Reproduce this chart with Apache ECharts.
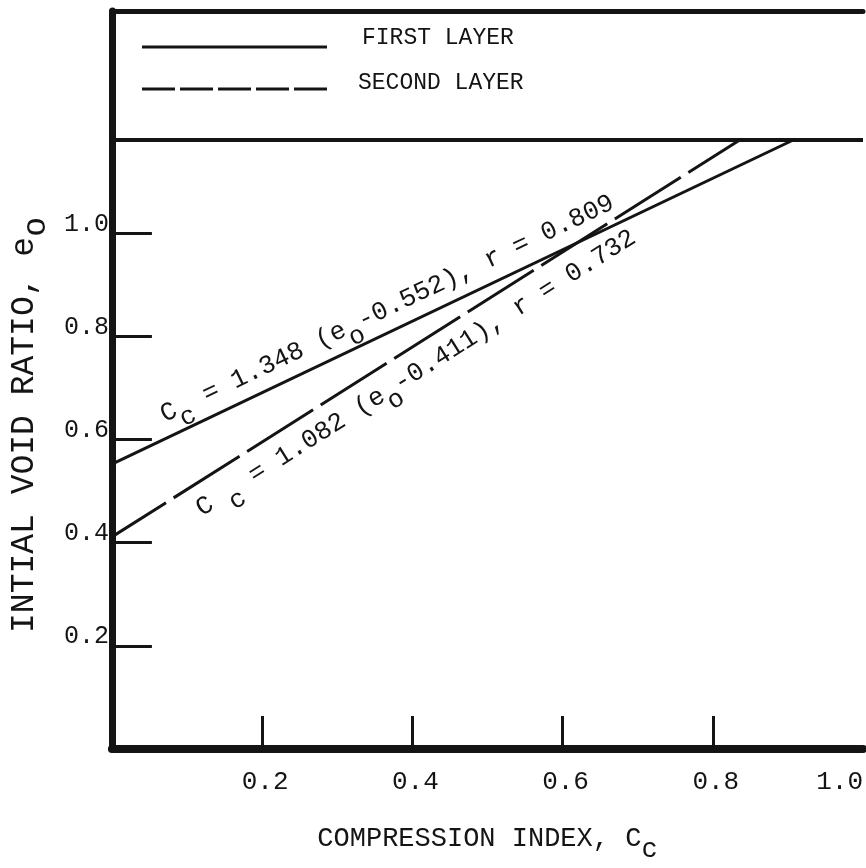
<!DOCTYPE html>
<html>
<head>
<meta charset="utf-8">
<title>Initial void ratio vs compression index</title>
<script src="https://cdn.jsdelivr.net/npm/echarts@6/dist/echarts.min.js"></script>
<style>
  html, body { margin: 0; padding: 0; background: #ffffff; }
  #chart { width: 866px; height: 868px; }
</style>
</head>
<body>
<div id="chart"></div>
<script>
// Regression lines: initial void ratio e_o against compression index C_c
const ccFirst = [0, 0.91];
const eoFirst = [0.552, 1.182];
const ccSecond = [0, 0.838];
const eoSecond = [0.411, 1.182];

const xTickValues = [0.2, 0.4, 0.6, 0.8];
const xLabelValues = [0.2, 0.4, 0.6, 0.8, 1.0];
const yTickValues = [0.2, 0.4, 0.6, 0.8, 1.0];

const seriesNames = ['FIRST LAYER', 'SECOND LAYER'];
const keyPanelEdge = 1.182;   // e_o level of the rule under the key panel

// Regression equations written along each line
const eqFirst = { coef: '1.348', shift: '0.552', r: '0.809' };
const eqSecond = { coef: '1.082', shift: '0.411', r: '0.732' };

const FONT = '"Liberation Mono", "DejaVu Sans Mono", monospace';
const INK = '#141414';

function pairs(xs, ys) { return xs.map((x, i) => [x, ys[i]]); }

// rich-text styles: n = normal, s = lowered (subscript) at the same size
function subRich(size, drop, key) {
  const c = key || 'color';
  const n = { fontFamily: FONT, fontSize: size, verticalAlign: 'top' };
  const s = { fontFamily: FONT, fontSize: size, verticalAlign: 'top', padding: [drop, 0, 0, 0] };
  n[c] = INK; s[c] = INK;
  return { n, s };
}

const chart = echarts.init(document.getElementById('chart'), null, { renderer: 'canvas' });

const option = {
  animation: false,
  backgroundColor: '#ffffff',
  grid: { left: 110, right: 0, top: 11, bottom: 113, containLabel: false },
  xAxis: [{
    type: 'value', min: 0, max: 1.0, position: 'bottom',
    name: '{n|COMPRESSION INDEX, C}{s|c}',
    nameLocation: 'middle', nameGap: 76,
    nameTextStyle: { rich: subRich(27, 11) },
    axisLine: { show: true, onZero: false, lineStyle: { color: INK, width: 8 } },
    axisTick: { show: true, inside: true, length: 33, customValues: xTickValues,
                lineStyle: { color: INK, width: 3 } },
    axisLabel: { customValues: xLabelValues, formatter: v => v.toFixed(1),
                 fontFamily: FONT, fontSize: 26, color: INK, margin: 20,
                 padding: [0, 0, 0, 6], alignMaxLabel: 'right' },
    splitLine: { show: false }
  }, {
    type: 'value', min: 0, max: 1.0, position: 'top',
    axisLine: { show: true, onZero: false, lineStyle: { color: INK, width: 5 } },
    axisTick: { show: false }, axisLabel: { show: false }, splitLine: { show: false }
  }],
  yAxis: {
    type: 'value', min: 0, max: 1.43,
    name: '{n|INTIAL VOID RATIO, e}{s|o}',
    nameLocation: 'middle', nameRotate: 90, nameGap: 58,
    nameTextStyle: { rich: subRich(33, 12), padding: [0, 90, 0, 0] },
    axisLine: { show: true, onZero: false, lineStyle: { color: INK, width: 7 } },
    axisTick: { show: true, inside: true, length: 40, customValues: yTickValues,
                lineStyle: { color: INK, width: 3 } },
    axisLabel: { customValues: yTickValues, formatter: v => v.toFixed(1),
                 fontFamily: FONT, fontSize: 25, color: INK, margin: 3,
                 verticalAlign: 'bottom', lineHeight: 18 },
    splitLine: { show: false }
  },
  series: [{
    name: seriesNames[0], type: 'line', data: pairs(ccFirst, eoFirst),
    symbol: 'none', silent: true,
    lineStyle: { color: INK, width: 3 },
    markLine: {
      silent: true, symbol: 'none', label: { show: false },
      lineStyle: { color: INK, width: 4, type: 'solid' },
      data: [{ yAxis: keyPanelEdge }]
    }
  }, {
    name: seriesNames[1], type: 'line', data: pairs(ccSecond, eoSecond),
    symbol: 'none', silent: true,
    lineStyle: { color: INK, width: 3, type: [78, 9], dashOffset: 14 }
  }]
};

chart.setOption(option);

// Place an equation parallel to its line, offset to one side of it
function equationText(cc, eo, startCc, offset, eq, gapAfterC) {
  const p0 = chart.convertToPixel({ gridIndex: 0 }, [cc[0], eo[0]]);
  const p1 = chart.convertToPixel({ gridIndex: 0 }, [cc[1], eo[1]]);
  const ax = chart.convertToPixel({ gridIndex: 0 }, [startCc, eo[0]])[0];
  const ay = p0[1] + (p1[1] - p0[1]) * (ax - p0[0]) / (p1[0] - p0[0]);
  const angle = Math.atan2(p0[1] - p1[1], p1[0] - p0[0]);
  return {
    type: 'text', x: ax, y: ay, rotation: angle, silent: true,
    style: {
      x: 0, y: offset,
      text: '{n|C' + gapAfterC + '}{s|c}{n| = ' + eq.coef + ' (e}{s|o}{n|-' + eq.shift +
            '), r = ' + eq.r + '}',
      rich: subRich(26, 12, 'fill'),
      fill: INK, align: 'left', verticalAlign: 'middle'
    }
  };
}

chart.setOption({
  graphic: [
    // key panel
    { type: 'line', silent: true, shape: { x1: 142, y1: 47, x2: 327, y2: 47 },
      style: { stroke: INK, lineWidth: 3 } },
    { type: 'line', silent: true, shape: { x1: 142, y1: 89, x2: 327, y2: 89 },
      style: { stroke: INK, lineWidth: 3, lineDash: [33, 5] } },
    { type: 'text', silent: true, x: 362, y: 38,
      style: { text: seriesNames[0], font: '23px ' + FONT, fill: INK,
               align: 'left', verticalAlign: 'middle' } },
    { type: 'text', silent: true, x: 358, y: 83,
      style: { text: seriesNames[1], font: '23px ' + FONT, fill: INK,
               align: 'left', verticalAlign: 'middle' } },
    // equations along the lines
    equationText(ccFirst, eoFirst, 0.079, -16, eqFirst, ''),
    equationText(ccSecond, eoSecond, 0.098, 30, eqSecond, ' ')
  ]
});
</script>
</body>
</html>
